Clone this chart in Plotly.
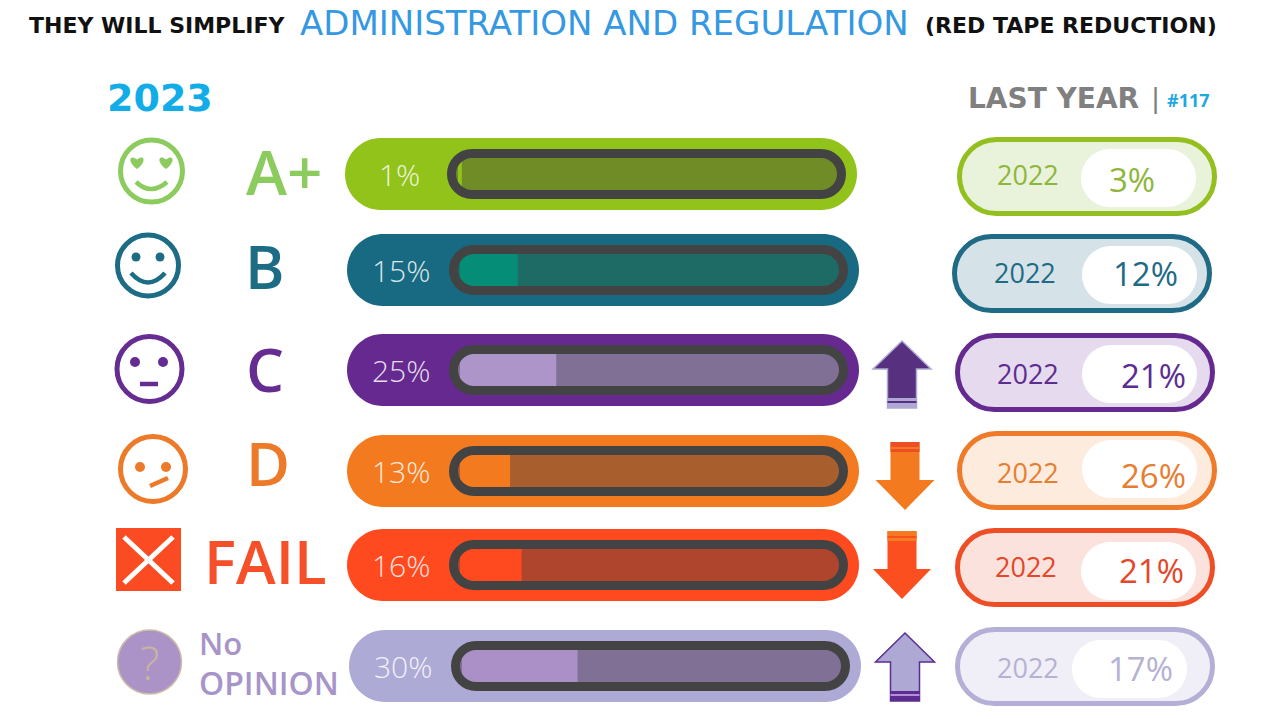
import plotly.graph_objects as go

# Chart data
GRADES = ["A+", "B", "C", "D", "FAIL", "No OPINION"]
PCT_2023 = [1, 15, 25, 13, 16, 30]
PCT_2022 = [3, 12, 21, 26, 21, 17]
TRENDS = [None, None, "up", "down", "down", "up"]

# Colours per row
PILL = ["#92c31a", "#176a82", "#65298f", "#f47a20", "#ff4a20", "#aeaad6"]
FILL = ["#92c31a", "#068d78", "#ae95c9", "#f47a20", "#ff4a20", "#aa90c7"]
MUTED = ["#6f8c27", "#1e6b66", "#817096", "#a95f2d", "#b0452d", "#817096"]
LABEL = ["#8ccb5e", "#1b6c84", "#652c91", "#ec7a29", "#f5502a", "#a795c9"]
RING = ["#93c01f", "#1f6b85", "#642a8f", "#ef7a2a", "#ee4e26", "#b3afd6"]
TINT = ["#e9f2da", "#d5e3e9", "#e5daee", "#fdebdd", "#fce2dc", "#f0eff8"]
OLD_TEXT = ["#8fb63c", "#1f6b85", "#5c2d91", "#e67e32", "#e4472a", "#b5b2d2"]
DARK = "#434343"

# Layout in page pixels
PILL_X = [345, 347, 347, 347, 347, 349]
PILL_Y = [138, 234, 334, 435, 529, 630]
PILL_W, PILL_H = 512, 72
TRACK_DX, TRACK_DY, TRACK_W, TRACK_H, TRACK_LW = 102, 11, 399, 50, 9
PX_PER_PCT = 3.85
RIGHT_X = [957, 952, 955, 957, 955, 955]
RIGHT_Y = [137, 234, 333, 431, 528, 627]
WHITE_X = [1081, 1082, 1082, 1082, 1081, 1072]
WHITE_Y = [149, 246, 345, 440, 542, 640]
YEAR_POS = [(1028, 174), (1025, 272), (1028, 373), (1028, 472), (1026, 566), (1028, 667)]
OLD_POS = [(1132, 179), (1145, 273), (1153, 375), (1153, 475), (1151, 570), (1140, 668)]

W, H = 1279, 719
fig = go.Figure()


def pill(x0, y0, x1, y1):
    # Plotly does not scale arc commands, so the round ends are cubic curves
    r = (y1 - y0) / 2
    k = r * 0.5523
    ym = (y0 + y1) / 2
    return (f"M {x0 + r} {y0} L {x1 - r} {y0} "
            f"C {x1 - r + k} {y0} {x1} {ym - k} {x1} {ym} C {x1} {ym + k} {x1 - r + k} {y1} {x1 - r} {y1} "
            f"L {x0 + r} {y1} "
            f"C {x0 + r - k} {y1} {x0} {ym + k} {x0} {ym} C {x0} {ym - k} {x0 + r - k} {y0} {x0 + r} {y0} Z")


def shape_path(path, fill="rgba(0,0,0,0)", color="rgba(0,0,0,0)", width=0, layer="below"):
    fig.add_shape(type="path", path=path, fillcolor=fill, layer=layer, xref="x", yref="y",
                  line=dict(color=color, width=width))


def circle(cx, cy, r, fill="rgba(0,0,0,0)", color="rgba(0,0,0,0)", width=0):
    fig.add_shape(type="circle", x0=cx - r, x1=cx + r, y0=cy - r, y1=cy + r, xref="x", yref="y",
                  fillcolor=fill, layer="below", line=dict(color=color, width=width))


def text(x, y, s, size, color, family="Open Sans", weight=400, anchor="center"):
    fig.add_annotation(x=x, y=y, xref="x", yref="y", text=s, showarrow=False,
                       xanchor=anchor, yanchor="middle",
                       font=dict(family=family, size=size, color=color, weight=weight))


def heart(cx, cy, s, color):
    shape_path(f"M {cx} {cy + s} C {cx - s * 1.5} {cy - s * 0.1} {cx - s} {cy - s * 1.2} {cx} {cy - s * 0.35} "
               f"C {cx + s} {cy - s * 1.2} {cx + s * 1.5} {cy - s * 0.1} {cx} {cy + s} Z", fill=color)


def arrow(kind, cx, tip, head, end, half_head, half_shaft, fill, band, stripe, edge=None):
    path = (f"M {cx} {tip} L {cx + half_head} {head} L {cx + half_shaft} {head} L {cx + half_shaft} {end} "
            f"L {cx - half_shaft} {end} L {cx - half_shaft} {head} L {cx - half_head} {head} Z")
    shape_path(path, fill=fill, color=edge or fill, width=1.5 if edge else 0)
    sign = 1 if kind == "up" else -1
    b0, b1 = end - sign * 10, end
    shape_path(f"M {cx - half_shaft} {b0} L {cx + half_shaft} {b0} L {cx + half_shaft} {b1} L {cx - half_shaft} {b1} Z", fill=band)
    s0 = end - sign * 7
    s1 = end - sign * 5
    shape_path(f"M {cx - half_shaft} {s0} L {cx + half_shaft} {s0} L {cx + half_shaft} {s1} L {cx - half_shaft} {s1} Z", fill=stripe)


# Keeps the pixel axis alive so that shapes and texts use it
fig.add_trace(go.Scatter(x=[0, W], y=[0, H], mode="none", xaxis="x", yaxis="y",
                         showlegend=False, hoverinfo="skip"))

# Main pills, tracks and last year pills
for i in range(len(GRADES)):
    x, y = PILL_X[i], PILL_Y[i]
    shape_path(pill(x, y, x + PILL_W, y + PILL_H), fill=PILL[i])
    tx, ty = x + TRACK_DX, y + TRACK_DY
    lw = TRACK_LW / 2
    track = pill(tx + lw, ty + lw, tx + TRACK_W - lw, ty + TRACK_H - lw)
    shape_path(track, fill=MUTED[i])
    # The ring sits over the bar and hides the bar's square left corners
    shape_path(track, color=DARK, width=TRACK_LW, layer="above")
    text(x + 54, y + 36, f"{PCT_2023[i]}%", 30, "rgba(255,255,255,0.85)", weight=300)

    rx, ry = RIGHT_X[i], RIGHT_Y[i]
    shape_path(pill(rx + 2.5, ry + 2.5, rx + 257.5, ry + 76.5), fill=TINT[i], color=RING[i], width=5)
    shape_path(pill(WHITE_X[i], WHITE_Y[i], WHITE_X[i] + 115, WHITE_Y[i] + 58), fill="#ffffff")
    text(*YEAR_POS[i], "2022", 27, OLD_TEXT[i])
    text(*OLD_POS[i], f"{PCT_2022[i]}%", 33, OLD_TEXT[i])

# Progress fills, with a small per-row shift as each row starts a little further right
starts = [(x - PILL_X[0]) / PX_PER_PCT for x in PILL_X]
fig.add_trace(go.Bar(
    x=PCT_2023,
    base=starts,
    y=[y + TRACK_DY + TRACK_H / 2 for y in PILL_Y],
    width=34, orientation="h", xaxis="x2", yaxis="y",
    marker=dict(color=FILL, line=dict(width=0)),
    showlegend=False, hoverinfo="skip",
))

# Face A+
circle(151.5, 171, 31, color=LABEL[0], width=5)
heart(137, 162, 7, LABEL[0])
heart(166, 162, 7, LABEL[0])
shape_path("M 136 182 Q 151 196 167 182", color=LABEL[0], width=4.5)
# Face B
circle(148, 265.5, 30.5, color=LABEL[1], width=5)
circle(136, 257, 4.5, fill=LABEL[1])
circle(160, 257, 4.5, fill=LABEL[1])
shape_path("M 131 273 Q 148 292 165 273", color=LABEL[1], width=4.5)
# Face C
circle(149.5, 369, 32.5, color=LABEL[2], width=5)
circle(135, 362, 5, fill=LABEL[2])
circle(163, 362, 5, fill=LABEL[2])
shape_path("M 140 384 L 158 384", color=LABEL[2], width=4.5)
# Face D
circle(153, 469, 32.5, color=LABEL[3], width=5)
circle(140, 467, 5, fill=LABEL[3])
circle(166, 467, 5, fill=LABEL[3])
shape_path("M 150 486 L 168 478", color=LABEL[3], width=4.5)
# Fail box
shape_path("M 116 528 L 181 528 L 181 591 L 116 591 Z", fill="#fb4b22")
shape_path("M 124 583 L 173 537", color="#ffffff", width=5)
shape_path("M 124 537 L 173 583", color="#ffffff", width=5)
# No opinion badge
circle(149.5, 662, 32, fill="#ab93c8", color="#c9bda8", width=1.5)
text(149, 662, "?", 46, "#c9b49e", weight=300)

# Trend arrows
arrow(TRENDS[2], 902, 341, 369, 408, 29, 14.5, "#57317f", "#afa8d4", "#57317f", edge="#afa8d4")
arrow(TRENDS[3], 905, 510, 480, 442, 29.5, 14.5, "#f47a20", "#ee4e26", "#f47a20")
arrow(TRENDS[4], 902, 599, 569, 531, 29, 14.5, "#fb4f1f", "#f47b20", "#fb4f1f")
arrow(TRENDS[5], 905, 633, 662, 701, 29.5, 14.5, "#ada8d4", "#5c2d91", "#b48fd8", edge="#5c2d91")

# Grade labels
text(284, 171, GRADES[0], 62, LABEL[0], weight=600)
text(265, 266, GRADES[1], 60, LABEL[1], weight=600)
text(265, 369, GRADES[2], 60, LABEL[2], weight=600)
text(268, 463, GRADES[3], 60, LABEL[3], weight=600)
text(265, 561, GRADES[4], 60, LABEL[4], weight=600)
word_a, word_b = GRADES[5].split()
text(197, 643, word_a, 31, LABEL[5], weight=600, anchor="left")
text(197, 682, word_b, 32, LABEL[5], weight=600, anchor="left")

# Title and headers
TITLE = "DejaVu Sans"
text(27, 25, "THEY WILL SIMPLIFY", 22, "#111111", family=TITLE, weight=700, anchor="left")
text(298, 23, "ADMINISTRATION AND REGULATION", 34, "#3498e3", family=TITLE, anchor="left")
text(923, 25, "(RED TAPE REDUCTION)", 22, "#111111", family=TITLE, weight=700, anchor="left")
text(105, 98, "2023", 38, "#12ade8", family=TITLE, weight=700, anchor="left")
text(966, 98, "LAST YEAR", 28, "#808080", family=TITLE, weight=700, anchor="left")
text(1149, 98, "|", 27, "#808080", family=TITLE, anchor="left")
text(1165, 100, "#117", 18, "#1fa8e0", weight=700, anchor="left")

zero_px = PILL_X[0] + TRACK_DX + TRACK_LW + 2
fig.update_layout(
    width=W, height=H,
    margin=dict(l=0, r=0, t=0, b=0),
    paper_bgcolor="#ffffff", plot_bgcolor="#ffffff",
    barmode="overlay", showlegend=False,
    xaxis=dict(range=[0, W], visible=False, fixedrange=True),
    xaxis2=dict(range=[-zero_px / PX_PER_PCT, (W - zero_px) / PX_PER_PCT],
                overlaying="x", visible=False, fixedrange=True),
    yaxis=dict(range=[H, 0], visible=False, fixedrange=True),
)

fig.write_html("out.html", config=dict(displayModeBar=False),
               post_script="document.body.style.margin='0';document.body.style.overflow='hidden';")
